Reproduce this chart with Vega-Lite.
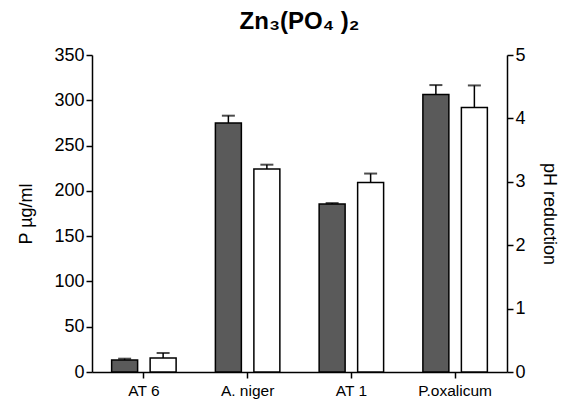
{
  "$schema": "https://vega.github.io/schema/vega-lite/v6.json",
  "width": 415,
  "height": 317,
  "autosize": {"type": "none"},
  "padding": {"left": 92, "top": 55, "right": 65, "bottom": 34},
  "config": {
    "view": {"stroke": null},
    "font": "Arial",
    "axis": {
      "grid": false,
      "domainColor": "black",
      "tickColor": "black",
      "labelColor": "black",
      "titleColor": "black",
      "domainWidth": 1.5,
      "tickWidth": 1.5,
      "tickSize": 6,
      "labelFontSize": 18,
      "titleFontSize": 18,
      "titleFontWeight": "normal",
      "labelFont": "Arial",
      "titleFont": "Arial"
    }
  },
  "title": {
    "text": "Zn₃(PO₄ )₂",
    "fontSize": 24,
    "fontWeight": "bold",
    "color": "black",
    "font": "Arial",
    "anchor": "middle",
    "offset": 12
  },
  "layer": [
    {
      "data": {
        "values": [
          {"group": "AT 6", "s": "P", "value": 13.2, "hi": 14.7},
          {"group": "A. niger", "s": "P", "value": 275, "hi": 283},
          {"group": "AT 1", "s": "P", "value": 185.4, "hi": 186.5},
          {"group": "P.oxalicum", "s": "P", "value": 306.5, "hi": 316.8}
        ]
      },
      "encoding": {
        "x": {
          "field": "group",
          "type": "nominal",
          "sort": ["AT 6", "A. niger", "AT 1", "P.oxalicum"],
          "scale": {"paddingInner": 0, "paddingOuter": 0},
          "axis": {"title": null, "labelAngle": 0, "labelFontSize": 15.5, "labelPadding": 5}
        },
        "xOffset": {
          "field": "s",
          "type": "nominal",
          "scale": {"domain": ["P", "pH"], "paddingInner": 0.325, "paddingOuter": 0.51}
        }
      },
      "layer": [
        {
          "mark": {"type": "bar", "fill": "#5a5a5a", "stroke": "black", "strokeWidth": 1.5},
          "encoding": {
            "y": {
              "field": "value",
              "type": "quantitative",
              "scale": {"domain": [0, 350]},
              "axis": {"title": "P µg/ml", "values": [0, 50, 100, 150, 200, 250, 300, 350], "titlePadding": 18, "orient": "left"}
            }
          }
        },
        {
          "mark": {"type": "rule", "stroke": "black", "strokeWidth": 1.5},
          "encoding": {
            "y": {"field": "value", "type": "quantitative"},
            "y2": {"field": "hi"}
          }
        },
        {
          "mark": {"type": "tick", "color": "black", "size": 13, "thickness": 2},
          "encoding": {
            "y": {"field": "hi", "type": "quantitative"}
          }
        }
      ]
    },
    {
      "data": {
        "values": [
          {"group": "AT 6", "s": "pH", "value": 0.22, "hi": 0.3},
          {"group": "A. niger", "s": "pH", "value": 3.2, "hi": 3.27},
          {"group": "AT 1", "s": "pH", "value": 2.99, "hi": 3.13},
          {"group": "P.oxalicum", "s": "pH", "value": 4.17, "hi": 4.52}
        ]
      },
      "encoding": {
        "x": {
          "field": "group",
          "type": "nominal",
          "sort": ["AT 6", "A. niger", "AT 1", "P.oxalicum"]
        },
        "xOffset": {"field": "s", "type": "nominal"}
      },
      "layer": [
        {
          "mark": {"type": "bar", "fill": "white", "stroke": "black", "strokeWidth": 1.5},
          "encoding": {
            "y": {
              "field": "value",
              "type": "quantitative",
              "scale": {"domain": [0, 5]},
              "axis": {"title": "pH reduction", "values": [0, 1, 2, 3, 4, 5], "format": "d", "titlePadding": 14, "orient": "right"}
            }
          }
        },
        {
          "mark": {"type": "rule", "stroke": "black", "strokeWidth": 1.5},
          "encoding": {
            "y": {"field": "value", "type": "quantitative"},
            "y2": {"field": "hi"}
          }
        },
        {
          "mark": {"type": "tick", "color": "black", "size": 13, "thickness": 2},
          "encoding": {
            "y": {"field": "hi", "type": "quantitative"}
          }
        }
      ]
    }
  ],
  "resolve": {"scale": {"y": "independent"}}
}
